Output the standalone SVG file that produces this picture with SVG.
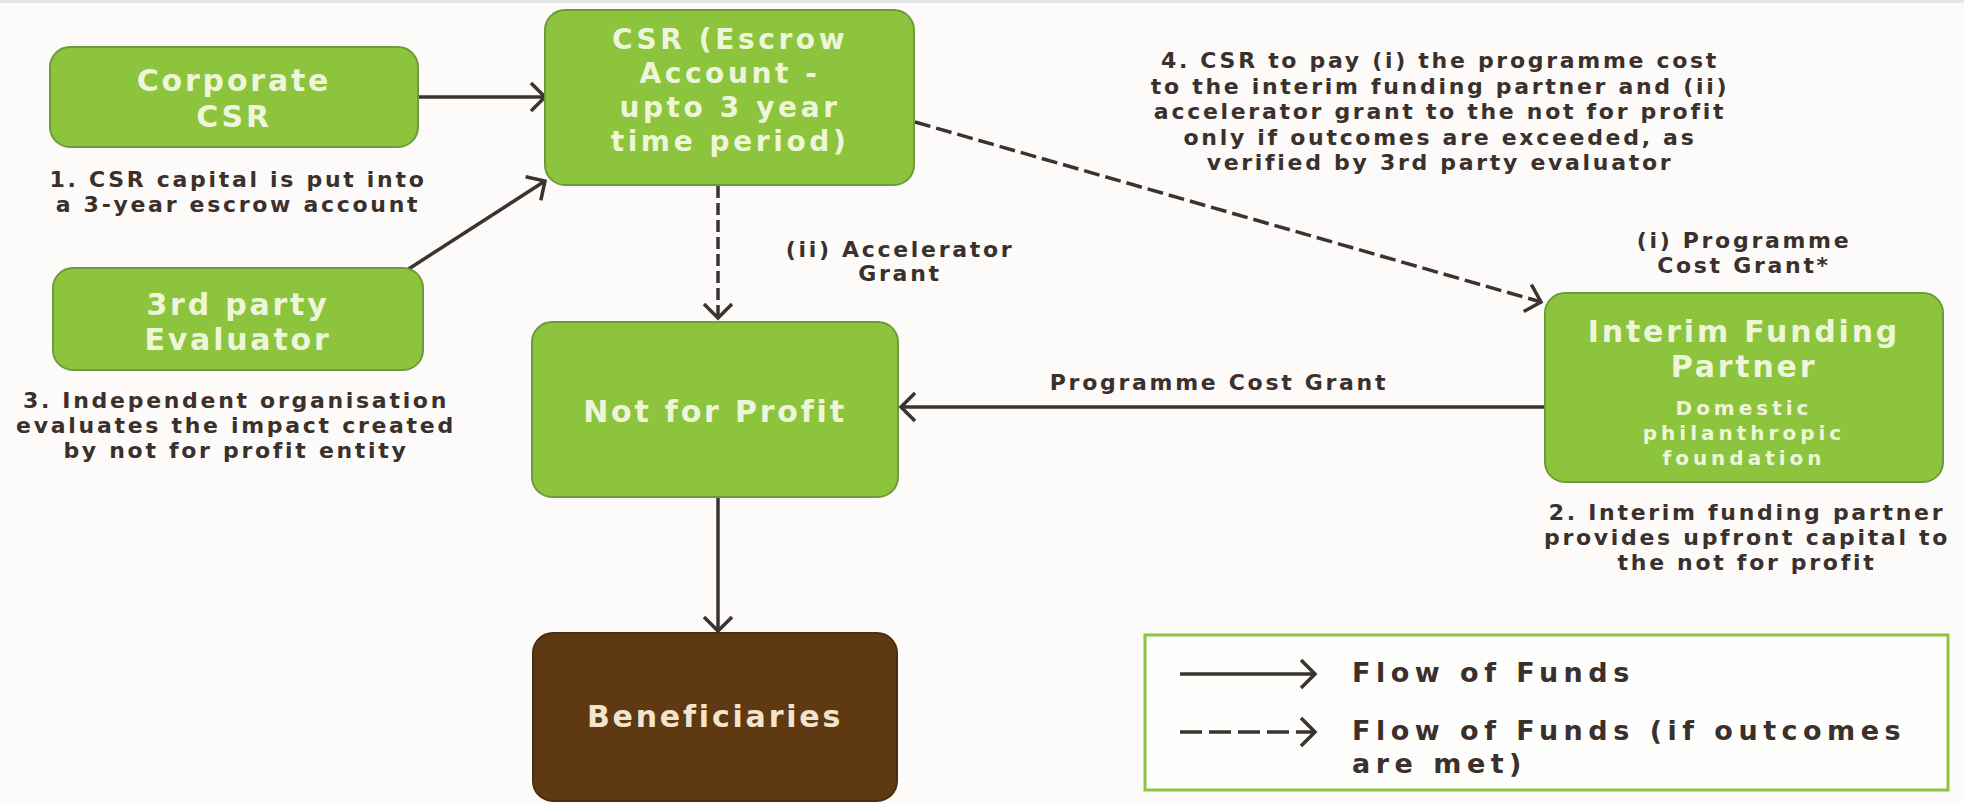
<svg xmlns="http://www.w3.org/2000/svg" width="1964" height="803" viewBox="0 0 1964 803">
<style>
.bg{fill:#fcfbf9}
.box{fill:#8cc43e;stroke:#6f9a3a;stroke-width:2}
.brown{fill:#5e3912;stroke:#4a2c0e;stroke-width:2}
.t{font-family:"DejaVu Sans",sans-serif;font-weight:bold;text-anchor:middle}
.bt{font-size:30px;letter-spacing:2.8px;fill:#eef6da}
.bs{font-size:28px;letter-spacing:3.6px;fill:#eef6da}
.st{font-size:20px;letter-spacing:4px;fill:#eef6da}
.nt{font-size:22px;letter-spacing:2.7px;fill:#3b302b}
.lg{font-family:"DejaVu Sans",sans-serif;font-weight:bold;font-size:27px;letter-spacing:5.5px;fill:#3b302b}
.ln{fill:none;stroke:#3b3330;stroke-width:3.5}
.dash{stroke-dasharray:12 5}
.dash2{stroke-dasharray:16 6}
.dash3{stroke-dasharray:22 7}
</style>
<defs>
<marker id="ah" viewBox="0 0 20 34" refX="17" refY="17" markerWidth="20" markerHeight="34" markerUnits="userSpaceOnUse" orient="auto" overflow="visible">
<path d="M3,3 L17,17 L3,31" fill="none" stroke="#3b3330" stroke-width="3.5" stroke-linejoin="miter"/>
</marker>
</defs>
<rect class="bg" x="0" y="0" width="1964" height="803"/>
<rect x="0" y="0" width="1964" height="3" fill="#e6e6e6"/>

<g id="connectors">
<line class="ln" x1="418" y1="97" x2="545" y2="97" marker-end="url(#ah)"/>
<line class="ln" x1="407" y1="270" x2="545" y2="181" marker-end="url(#ah)"/>
<line class="ln dash" x1="718" y1="186" x2="718" y2="318" marker-end="url(#ah)"/>
<line class="ln dash2" x1="915" y1="122" x2="1541" y2="302" marker-end="url(#ah)"/>
<line class="ln" x1="1545" y1="407" x2="901" y2="407" marker-end="url(#ah)"/>
<line class="ln" x1="718" y1="497" x2="718" y2="631" marker-end="url(#ah)"/>
</g>

<g id="corporate-csr">
<rect class="box" x="50" y="47" width="368" height="100" rx="20"/>
<text class="t bt" x="234" y="91">Corporate</text>
<text class="t bt" x="234" y="127">CSR</text>
</g>

<g id="csr-escrow">
<rect class="box" x="545" y="10" width="369" height="175" rx="20"/>
<text class="t bs" x="730" y="49">CSR (Escrow</text>
<text class="t bs" x="730" y="83">Account -</text>
<text class="t bs" x="730" y="117">upto 3 year</text>
<text class="t bs" x="730" y="151">time period)</text>
</g>

<g id="evaluator">
<rect class="box" x="53" y="268" width="370" height="102" rx="20"/>
<text class="t bt" x="238" y="315">3rd party</text>
<text class="t bt" x="238" y="350">Evaluator</text>
</g>

<g id="not-for-profit">
<rect class="box" x="532" y="322" width="366" height="175" rx="20"/>
<text class="t bt" x="715" y="422">Not for Profit</text>
</g>

<g id="interim-funding-partner">
<rect class="box" x="1545" y="293" width="398" height="189" rx="20"/>
<text class="t bt" x="1744" y="342">Interim Funding</text>
<text class="t bt" x="1744" y="377">Partner</text>
<text class="t st" x="1744" y="415">Domestic</text>
<text class="t st" x="1744" y="440">philanthropic</text>
<text class="t st" x="1744" y="465">foundation</text>
</g>

<g id="beneficiaries">
<rect class="brown" x="533" y="633" width="364" height="168" rx="20"/>
<text class="t bt" x="715" y="727" style="fill:#f3e4cd">Beneficiaries</text>
</g>

<g id="notes">
<text class="t nt" x="238" y="187">1. CSR capital is put into</text>
<text class="t nt" x="238" y="212">a 3-year escrow account</text>
<text class="t nt" x="236" y="408">3. Independent organisation</text>
<text class="t nt" x="236" y="433">evaluates the impact created</text>
<text class="t nt" x="236" y="458">by not for profit entity</text>
<text class="t nt" x="900" y="257">(ii) Accelerator</text>
<text class="t nt" x="900" y="281">Grant</text>
<text class="t nt" x="1440" y="68">4. CSR to pay (i) the programme cost</text>
<text class="t nt" x="1440" y="93.5">to the interim funding partner and (ii)</text>
<text class="t nt" x="1440" y="119">accelerator grant to the not for profit</text>
<text class="t nt" x="1440" y="144.5">only if outcomes are exceeded, as</text>
<text class="t nt" x="1440" y="170">verified by 3rd party evaluator</text>
<text class="t nt" x="1744" y="248">(i) Programme</text>
<text class="t nt" x="1744" y="273">Cost Grant*</text>
<text class="t nt" x="1219" y="390">Programme Cost Grant</text>
<text class="t nt" x="1747" y="520">2. Interim funding partner</text>
<text class="t nt" x="1747" y="545">provides upfront capital to</text>
<text class="t nt" x="1747" y="570">the not for profit</text>
</g>

<g id="legend">
<rect x="1145" y="635" width="803" height="155" fill="#fefefd" stroke="#8cc43e" stroke-width="3"/>
<line class="ln" x1="1180" y1="674" x2="1315" y2="674" marker-end="url(#ah)"/>
<line class="ln dash3" x1="1180" y1="732" x2="1315" y2="732" marker-end="url(#ah)"/>
<text class="lg" x="1352" y="682">Flow of Funds</text>
<text class="lg" x="1352" y="740">Flow of Funds (if outcomes</text>
<text class="lg" x="1352" y="773">are met)</text>
</g>
</svg>
